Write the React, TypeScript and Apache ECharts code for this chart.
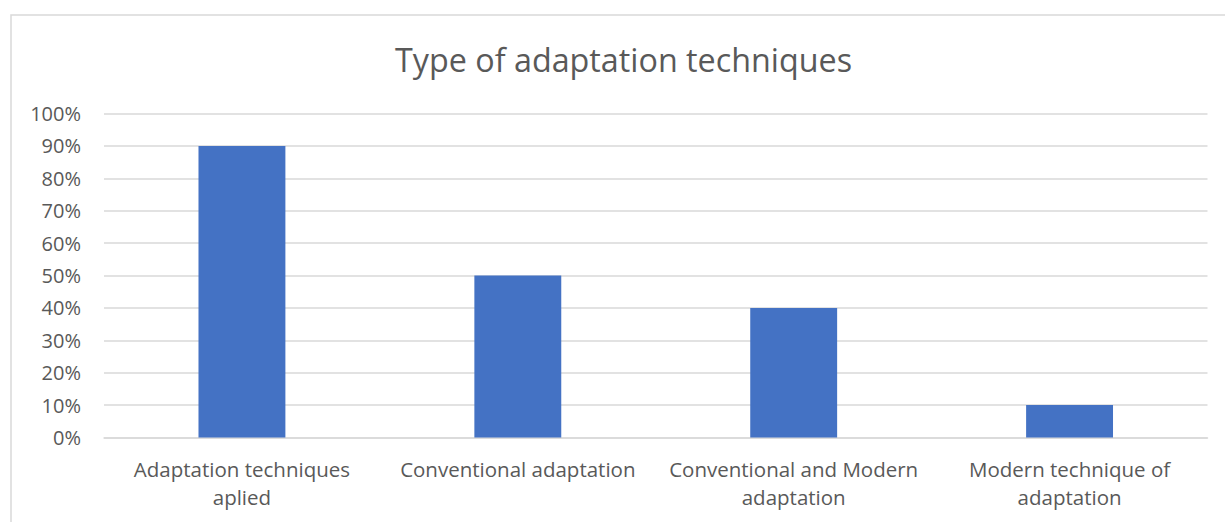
import React, { useEffect, useRef } from "react";
import * as echarts from "echarts";

const categories = [
  "Adaptation techniques\naplied",
  "Conventional adaptation",
  "Conventional and Modern\nadaptation",
  "Modern technique of\nadaptation",
];
const values = [0.9, 0.5, 0.4, 0.1];
const titleText = "Type of adaptation techniques";

export default function App() {
  const ref = useRef<HTMLDivElement>(null);
  useEffect(() => {
    if (!ref.current) return;
    const chart = echarts.init(ref.current, undefined, { renderer: "svg" });
    const font = "'Open Sans', sans-serif";
    chart.setOption({
      animation: false,
      backgroundColor: "#ffffff",
      title: {
        text: titleText,
        left: 390,
        top: 38,
        textStyle: { fontFamily: font, fontSize: 32.3, fontWeight: "normal", color: "#595959" },
      },
      graphic: [
        {
          type: "rect",
          shape: { x: 11, y: 15, width: 1400, height: 700 },
          style: { fill: "none", stroke: "#d9d9d9", lineWidth: 1.5 },
          silent: true,
        },
      ],
      grid: { left: 104, right: 17.5, top: 113.5, bottom: 84.5, containLabel: false },
      xAxis: {
        type: "category",
        data: categories,
        axisLine: { show: true, lineStyle: { color: "#d9d9d9", width: 1.5 } },
        axisTick: { show: false },
        axisLabel: {
          interval: 0,
          fontFamily: font,
          fontSize: 20.5,
          color: "#595959",
          lineHeight: 28,
          margin: 17,
        },
      },
      yAxis: {
        type: "value",
        min: 0,
        max: 1,
        interval: 0.1,
        axisLine: { show: false },
        axisTick: { show: false },
        splitLine: { lineStyle: { color: "#d9d9d9", width: 1.5 } },
        axisLabel: {
          fontFamily: font,
          fontSize: 20,
          color: "#595959",
          margin: 23,
          formatter: (v: number) => Math.round(v * 100) + "%",
        },
      },
      series: [
        {
          type: "bar",
          data: values,
          barWidth: "31.5%",
          itemStyle: { color: "#4472c4" },
        },
      ],
    });
    return () => chart.dispose();
  }, []);
  return (
    <div
      ref={ref}
      style={{ position: "fixed", left: 0, top: 0, width: 1225, height: 522 }}
    />
  );
}
